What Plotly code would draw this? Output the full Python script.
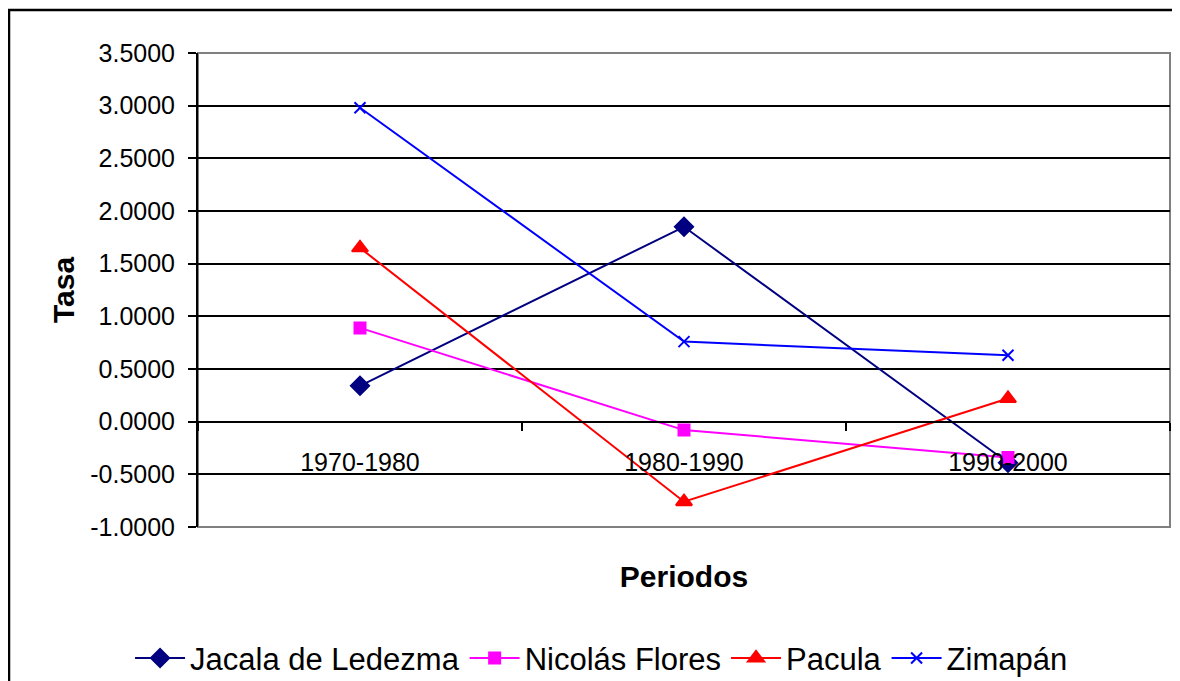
import plotly.graph_objects as go

periodos = ["1970-1980", "1980-1990", "1990-2000"]

jacala = [0.34, 1.85, -0.39]
nicolas = [0.89, -0.08, -0.34]
pacula = [1.65, -0.76, 0.22]
zimapan = [2.98, 0.76, 0.63]

y_ticks = [-1.0, -0.5, 0.0, 0.5, 1.0, 1.5, 2.0, 2.5, 3.0, 3.5]
y_tick_labels = [f"{v:.4f}" for v in y_ticks]
y_min, y_max = -1.0, 3.5

series = [
    ("Jacala de Ledezma", jacala, "#000080", "diamond", 14),
    ("Nicolás Flores", nicolas, "#FF00FF", "square", 11),
    ("Pacula", pacula, "#FF0000", "triangle-up", 14),
    ("Zimapán", zimapan, "#0000FF", "x-thin", 11),
]

font = "Liberation Sans, Arial, sans-serif"

fig = go.Figure()

for name, values, color, symbol, size in series:
    fig.add_trace(
        go.Scatter(
            x=periodos,
            y=values,
            mode="lines+markers",
            name=name,
            line=dict(color=color, width=2),
            marker=dict(
                symbol=symbol,
                size=size,
                color=color,
                line=dict(color=color, width=2),
            ),
        )
    )

# page body adds an 8px offset, margins compensate for it
fig.update_layout(
    width=1180,
    height=681,
    margin=dict(l=190, r=18, t=45, b=162, autoexpand=False),
    paper_bgcolor="white",
    plot_bgcolor="white",
    font=dict(family=font, color="black", size=25),
    showlegend=True,
    legend=dict(
        orientation="h",
        xref="container",
        yref="container",
        x=0.503,
        y=0.045,
        xanchor="center",
        yanchor="middle",
        font=dict(size=31),
        itemwidth=50,
        tracegroupgap=0,
    ),
)

fig.update_xaxes(
    type="category",
    range=[-0.5, 2.5],
    anchor="free",
    position=(0 - y_min) / (y_max - y_min),
    showline=True,
    linecolor="black",
    linewidth=2,
    ticks="outside",
    tickson="boundaries",
    ticklen=8,
    tickwidth=2,
    tickcolor="black",
    ticklabelstandoff=18,
    showgrid=False,
    tickfont=dict(size=25),
    title=dict(text="<b>Periodos</b>", font=dict(size=30), standoff=90),
)

fig.update_yaxes(
    range=[y_min, y_max],
    tickvals=y_ticks,
    ticktext=y_tick_labels,
    showline=True,
    linecolor="black",
    linewidth=2,
    ticks="outside",
    ticklen=8,
    tickwidth=2,
    tickcolor="black",
    ticklabelstandoff=8,
    showgrid=True,
    gridcolor="black",
    gridwidth=2,
    zeroline=False,
    tickfont=dict(size=25),
    title=dict(text="<b>Tasa</b>", font=dict(size=30), standoff=7),
)

# plot area border (grey) and outer chart border (black)
fig.add_shape(
    type="rect", xref="paper", yref="paper", x0=0, y0=0, x1=1, y1=1,
    line=dict(color="#808080", width=2), layer="below",
)
fig.add_shape(
    type="rect", xref="paper", yref="paper",
    x0=(1 - 190) / 972, y0=(519 - 2) / 474, x1=1.2, y1=-0.5,
    line=dict(color="black", width=2.5), layer="below",
)

fig.write_html("out.html")
